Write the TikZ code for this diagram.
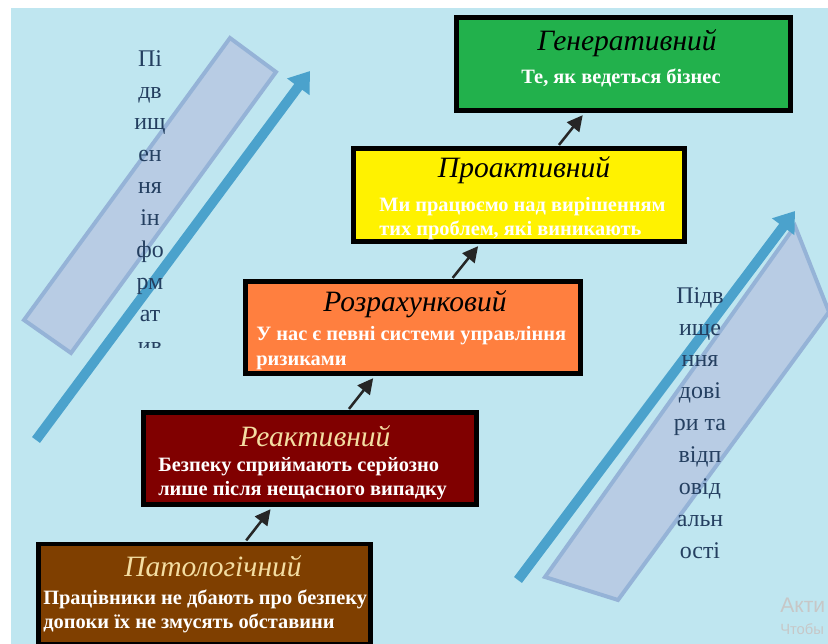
\documentclass[tikz,border=0pt]{standalone}
\usepackage{fontspec}
\setmainfont{Liberation Serif}
\newfontfamily\winfont{Liberation Sans}
\usetikzlibrary{arrows.meta}

\definecolor{bgblue}{HTML}{BFE6F0}
\definecolor{arrowblue}{HTML}{4BA2CC}
\definecolor{slabfill}{HTML}{B8CCE4}
\definecolor{slabline}{HTML}{95B3D7}
\definecolor{inkblue}{HTML}{243F60}
\definecolor{genfill}{HTML}{22B14C}
\definecolor{profill}{HTML}{FFF200}
\definecolor{rozfill}{HTML}{FF7F3F}
\definecolor{reafill}{HTML}{800000}
\definecolor{patfill}{HTML}{7F3F00}
\definecolor{titletan}{HTML}{F3DDA2}

\tikzset{
  levelbox/.style={draw=black, line width=3.5pt, rectangle, inner sep=0pt},
  leveltitle/.style={font=\fontsize{21}{25}\selectfont\itshape, inner sep=0pt},
  leveltext/.style={font=\fontsize{14.5}{17.2}\selectfont\bfseries, text=white, align=left, anchor=west, inner sep=0pt},
  levelarrow/.style={draw=black!85, line width=1.8pt, -{Triangle[length=11pt,width=11pt]}, shorten >=2pt, shorten <=1pt},
  bigarrow/.style={draw=arrowblue, line width=7pt, -{Triangle[length=14pt,width=19pt]}},
  slab/.style={fill=slabfill, draw=slabline, line width=2.8pt, line join=miter},
  sidetext/.style={font=\fontsize{17}{22.7}\selectfont, text=inkblue, align=center, inner sep=0pt}
}

\begin{document}
\begin{tikzpicture}[x=0.025cm, y=-0.025cm]
    \useasboundingbox (0,0) rectangle (828,644);
    \clip (0,0) rectangle (828,644);
    \fill[bgblue] (11,8) rectangle (828,644);

    % side slabs
    \draw[slab] (230,38) -- (276,72) -- (71,353) -- (24,320) -- cycle;
    \draw[slab] (545,577) -- (795,226) -- (829,312) -- (618,600) -- cycle;

    % big arrows
    \coordinate (L0) at (36,440);
    \coordinate (L1) at (310,71);
    \coordinate (R0) at (518,580);
    \coordinate (R1) at (795,211);
    \draw[bigarrow] (L0) -- (L1);
    \draw[bigarrow] (R0) -- (R1);

    % side texts
    \begin{scope}
        \clip (100,30) rectangle (200,347);
        \node[sidetext, anchor=north] (infoText) at (150,50) {Пі\\дв\\ищ\\ен\\ня\\ін\\фо\\рм\\ат\\ив\\ну};
    \end{scope}
    \node[sidetext, anchor=north] (trustText) at (700,287) {Підв\\ище\\ння\\дові\\ри та\\відп\\овід\\альн\\ості};

    % levels
    \node[levelbox, fill=patfill, minimum width=8.3cm, minimum height=2.5cm] (pat) at (204.5,594) {};
    \node[levelbox, fill=reafill, minimum width=8.325cm, minimum height=2.3cm] (rea) at (310,458.5) {};
    \node[levelbox, fill=rozfill, minimum width=8.375cm, minimum height=2.3cm] (roz) at (413,327.5) {};
    \node[levelbox, fill=profill, minimum width=8.275cm, minimum height=2.325cm] (pro) at (519,195) {};
    \node[levelbox, fill=genfill, minimum width=8.35cm, minimum height=2.325cm] (gen) at (623.5,64) {};

    \draw[levelarrow] (pat) -- (rea);
    \draw[levelarrow] (rea) -- (roz);
    \draw[levelarrow] (roz) -- (pro);
    \draw[levelarrow] (pro) -- (gen);

    \node[leveltitle, text=titletan] (patTitle) at (213,566) {Патологічний};
    \node[leveltext] (patText) at (43,611) {Працівники не дбають про безпеку\\допоки їх не змусять обставини};

    \node[leveltitle, text=titletan] (reaTitle) at (315,436) {Реактивний};
    \node[leveltext] (reaText) at (158,479) {Безпеку сприймають серйозно\\лише після нещасного випадку};

    \node[leveltitle] (rozTitle) at (415,304) {Розрахунковий};
    \node[leveltext] (rozText) at (256,348) {У нас є певні системи управління\\ризиками};

    \node[leveltitle] (proTitle) at (524,170) {Проактивний};
    \node[leveltext] (proText) at (379,219) {Ми працюємо над вирішенням\\тих проблем, які виникають};

    \node[leveltitle] (genTitle) at (627,43) {Генеративний};
    \node[leveltext, anchor=center] (genText) at (621,78) {Те, як ведеться бізнес};

    % watermark
    \node[anchor=west, inner sep=0pt, text=black!22, font=\winfont\fontsize{15}{17}\selectfont] (winA) at (780,605) {Акти};
    \node[anchor=west, inner sep=0pt, text=black!22, font=\winfont\fontsize{10.5}{12}\selectfont] (winB) at (780,629) {Чтобы};
\end{tikzpicture}
\end{document}
